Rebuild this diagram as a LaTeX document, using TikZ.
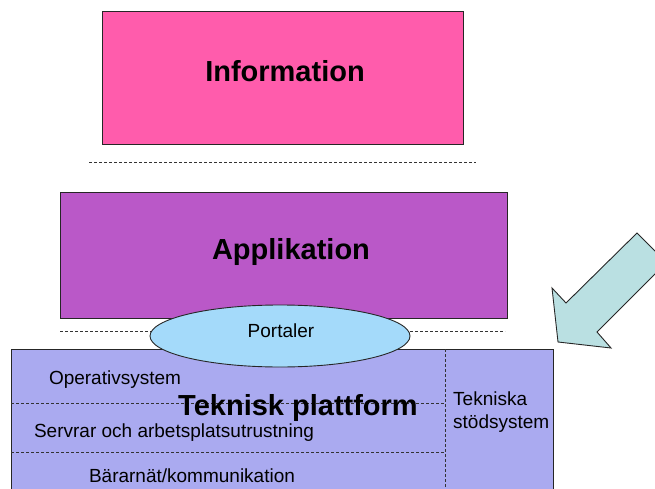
\documentclass[tikz,border=0pt]{standalone}
\usepackage{fontspec}
\setmainfont{Liberation Sans}
\usetikzlibrary{shapes.geometric}
\definecolor{infofill}{RGB}{255,92,172}
\definecolor{appfill}{RGB}{186,88,200}
\definecolor{portfill}{RGB}{164,218,250}
\definecolor{tekfill}{RGB}{170,170,240}
\definecolor{arrowfill}{RGB}{186,224,226}
\begin{document}
\begin{tikzpicture}[x=1pt,y=-1pt,
  boxstyle/.style={draw=black!85,line width=0.9pt},
  sepline/.style={draw=black!80,line width=0.8pt,dash pattern=on 3pt off 2pt},
  bigtitle/.style={font=\bfseries\fontsize{29}{34}\selectfont,inner sep=0pt},
  smalltext/.style={font=\fontsize{19}{23}\selectfont,inner sep=0pt}]
\useasboundingbox (0,0) rectangle (655,489);
\clip (0,0) rectangle (655,489);
% Information
\draw[boxstyle,fill=infofill] (102,11) rectangle (463,144);
\node[bigtitle] (info) at (285,71) {Information};
\coordinate (d1a) at (89,162);
\coordinate (d1b) at (476,162);
\draw[sepline] (d1a) -- (d1b);
% Applikation
\draw[boxstyle,fill=appfill] (60,192) rectangle (507,318);
\node[bigtitle] (app) at (291,252) {Applikation};
\coordinate (d2a) at (60,331);
\coordinate (d2b) at (505,331);
\draw[sepline] (d2a) -- (d2b);
% Teknisk plattform
\draw[boxstyle,fill=tekfill] (11,349) rectangle (553,500);
\coordinate (vt) at (445,349);
\coordinate (vb) at (445,500);
\draw[sepline] (vt) -- (vb);
\coordinate (h1a) at (11,403);
\coordinate (h1b) at (445,403);
\coordinate (h2a) at (11,452);
\coordinate (h2b) at (445,452);
\draw[sepline] (h1a) -- (h1b);
\draw[sepline] (h2a) -- (h2b);
\node[smalltext] (os) at (115,380) {Operativsystem};
\node[smalltext] (serv) at (174,433) {Servrar och arbetsplatsutrustning};
\node[smalltext] (bar) at (192,476) {Bärarnät/kommunikation};
\node[bigtitle] (tek) at (298,408) {Teknisk plattform};
\node[smalltext,anchor=west,align=left] (stod) at (453,412) {Tekniska\\stödsystem};
% Portaler
\node[draw=black!85,line width=0.9pt,fill=portfill,ellipse,minimum width=260pt,minimum height=62pt,inner sep=0pt] (port) at (280,336) {};
\node[smalltext] (porttext) at (281,331) {Portaler};
% Arrow
\draw[draw=black!85,line width=0.9pt,fill=arrowfill]
  (637,233) -- (666.5,262.5) -- (597,332) -- (611,348) -- (558,342)
  -- (552,288) -- (566,303) -- cycle;
\end{tikzpicture}
\end{document}
